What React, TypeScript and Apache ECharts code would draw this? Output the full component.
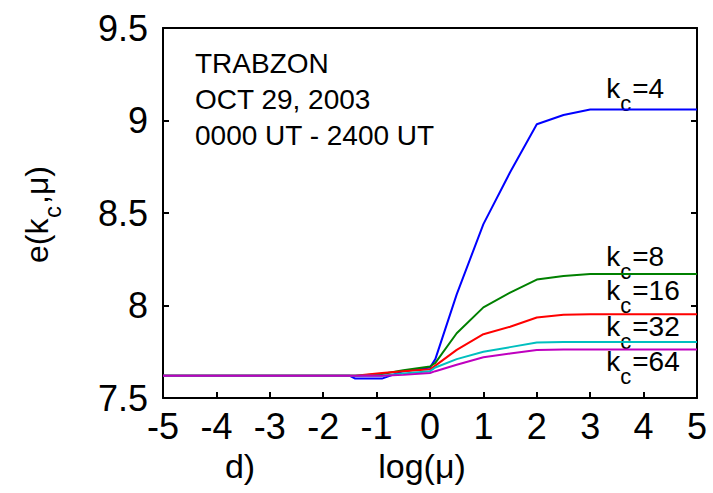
import React, { useEffect, useRef } from "react";
import * as echarts from "echarts";

// log(mu) sample positions
const logMu = [-5, -4, -3, -2, -1.5, -1.4, -0.9, -0.5, 0, 0.1, 0.5, 1, 1.5, 2, 2.5, 3, 4, 5];

// e(kc, mu) for each cutoff kc
const kc4 = [7.62, 7.62, 7.62, 7.62, 7.62, 7.605, 7.605, 7.645, 7.665, 7.71, 8.06, 8.44, 8.72, 8.98, 9.03, 9.06, 9.06, 9.06];
const kc8 = [7.62, 7.62, 7.62, 7.62, 7.62, 7.62, 7.63, 7.65, 7.67, 7.69, 7.85, 7.99, 8.07, 8.14, 8.16, 8.17, 8.17, 8.17];
const kc16 = [7.62, 7.62, 7.62, 7.62, 7.62, 7.62, 7.635, 7.645, 7.655, 7.675, 7.76, 7.845, 7.885, 7.935, 7.95, 7.953, 7.953, 7.953];
const kc32 = [7.62, 7.62, 7.62, 7.62, 7.62, 7.62, 7.62, 7.632, 7.645, 7.665, 7.71, 7.75, 7.775, 7.8, 7.803, 7.803, 7.803, 7.803];
const kc64 = [7.62, 7.62, 7.62, 7.62, 7.62, 7.62, 7.62, 7.625, 7.635, 7.645, 7.68, 7.72, 7.74, 7.76, 7.762, 7.762, 7.762, 7.762];

const seriesNames = ["4", "8", "16", "32", "64"];
const seriesValues = [kc4, kc8, kc16, kc32, kc64];
const seriesColors = ["#0000ff", "#008000", "#ff0000", "#00bfbf", "#bf00bf"];
// vertical pixel offset of each label's centre from its curve's end level
const labelOffsets = [-21, -18, -24, -15, 12];
const labelAnchorX = 3.3;

const annotation = ["TRABZON", "OCT 29, 2003", "0000 UT - 2400 UT"];

const FONT = "'Liberation Sans', Arial, sans-serif";

export default function App() {
  const ref = useRef<HTMLDivElement>(null);
  useEffect(() => {
    if (!ref.current) return;
    const chart = echarts.init(ref.current, null, { renderer: "svg" });
    const axisLine = { show: true, lineStyle: { color: "#000", width: 2 } };
    const option: any = {
      animation: false,
      backgroundColor: "#fff",
      grid: { left: 163, right: 16, top: 28, bottom: 95, containLabel: false },
      xAxis: [
        {
          type: "value",
          min: -5,
          max: 5,
          interval: 1,
          axisLine: { ...axisLine, onZero: false },
          axisTick: { show: true, inside: true, length: 6, lineStyle: { color: "#000", width: 2 } },
          axisLabel: { color: "#000", fontSize: 36, fontFamily: FONT, margin: 10 },
          splitLine: { show: false },
        },
        {
          type: "value",
          position: "top",
          min: -5,
          max: 5,
          axisLine: { ...axisLine, onZero: false },
          axisTick: { show: false },
          axisLabel: { show: false },
          splitLine: { show: false },
        },
      ],
      yAxis: [
        {
          type: "value",
          min: 7.5,
          max: 9.5,
          interval: 0.5,
          axisLine: { ...axisLine, onZero: false },
          axisTick: { show: true, inside: true, length: 6, lineStyle: { color: "#000", width: 2 } },
          axisLabel: { color: "#000", fontSize: 36, fontFamily: FONT, margin: 15 },
          splitLine: { show: false },
        },
        {
          type: "value",
          position: "right",
          min: 7.5,
          max: 9.5,
          interval: 0.5,
          axisLine: { ...axisLine, onZero: false },
          axisTick: { show: true, inside: true, length: 6, lineStyle: { color: "#000", width: 2 } },
          axisLabel: { show: false },
          splitLine: { show: false },
        },
      ],
      series: seriesValues.map((vals, i) => ({
        name: "kc=" + seriesNames[i],
        type: "line",
        xAxisIndex: 0,
        yAxisIndex: 0,
        showSymbol: false,
        symbol: "none",
        data: logMu.map((x, j) => [x, vals[j]]),
        lineStyle: { color: seriesColors[i], width: 2 },
        itemStyle: { color: seriesColors[i] },
        z: 2 + i,
      })),
    };
    chart.setOption(option);

    const graphics: any[] = [];
    // annotation block
    annotation.forEach((t, i) => {
      graphics.push({
        type: "text",
        x: 195,
        y: 63 + i * 36,
        z: 10,
        style: { text: t, font: `28px ${FONT}`, fill: "#000", textAlign: "left", textVerticalAlign: "middle" },
      });
    });
    // curve labels
    seriesValues.forEach((vals, i) => {
      const p = chart.convertToPixel({ xAxisIndex: 0, yAxisIndex: 0 }, [labelAnchorX, vals[vals.length - 1]]) as number[];
      const cx = p[0];
      const cy = p[1] + labelOffsets[i];
      graphics.push({
        type: "group",
        x: cx,
        y: cy,
        z: 10,
        children: [
          { type: "text", x: 0, y: 0, style: { text: "k", font: `28px ${FONT}`, fill: "#000", textAlign: "left", textVerticalAlign: "middle" } },
          { type: "text", x: 14, y: 15, style: { text: "c", font: `22px ${FONT}`, fill: "#000", textAlign: "left", textVerticalAlign: "middle" } },
          { type: "text", x: 26, y: 0, style: { text: "=" + seriesNames[i], font: `28px ${FONT}`, fill: "#000", textAlign: "left", textVerticalAlign: "middle" } },
        ],
      });
    });
    // y axis title e(k_c, mu)
    graphics.push({
      type: "group",
      x: 37,
      y: 213,
      rotation: Math.PI / 2,
      z: 10,
      children: [
        { type: "text", x: -50, y: 0, style: { text: "e(k", font: `32px ${FONT}`, fill: "#000", textAlign: "left", textVerticalAlign: "middle" } },
        { type: "text", x: -5, y: 15, style: { text: "c", font: `24px ${FONT}`, fill: "#000", textAlign: "left", textVerticalAlign: "middle" } },
        { type: "text", x: 9, y: 0, style: { text: ",μ)", font: `32px ${FONT}`, fill: "#000", textAlign: "left", textVerticalAlign: "middle" } },
      ],
    });
    // x axis title and panel letter
    graphics.push({
      type: "text",
      x: 422,
      y: 466,
      z: 10,
      style: { text: "log(μ)", font: `34px ${FONT}`, fill: "#000", textAlign: "center", textVerticalAlign: "middle" },
    });
    graphics.push({
      type: "text",
      x: 240,
      y: 466,
      z: 10,
      style: { text: "d)", font: `34px ${FONT}`, fill: "#000", textAlign: "center", textVerticalAlign: "middle" },
    });
    chart.setOption({ graphic: graphics });

    return () => chart.dispose();
  }, []);
  return <div ref={ref} style={{ position: "fixed", left: 0, top: 0, width: 713, height: 493 }} />;
}
